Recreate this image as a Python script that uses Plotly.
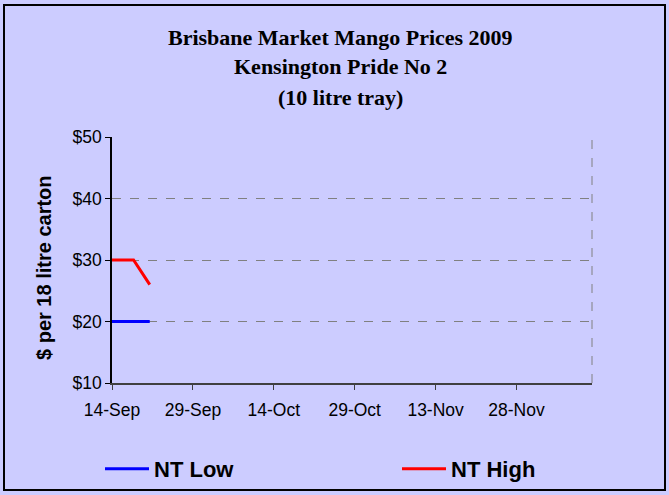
import plotly.graph_objects as go

dates = ["2009-09-14", "2009-09-18", "2009-09-21"]
nt_low = [20, 20, 20]
nt_high = [30, 30, 26]

tick_vals = ["2009-09-14", "2009-09-29", "2009-10-14", "2009-10-29", "2009-11-13", "2009-11-28"]
tick_text = ["14-Sep", "29-Sep", "14-Oct", "29-Oct", "13-Nov", "28-Nov"]
title_lines = ["Brisbane Market Mango Prices 2009", "Kensington Pride No 2", "(10 litre tray)"]
y_title = "$ per 18 litre carton"

BG = "#CCCCFF"
# plot area in pixels: x 112..592, y 137..383
PL, PW, PB, PH = 112, 480, 383, 246


def px_x(p):
    return (p - PL) / PW


def px_y(p):
    return (PB - p) / PH


fig = go.Figure()
fig.add_trace(go.Scatter(x=dates, y=nt_low, name="<b>NT Low</b>", mode="lines",
                         line=dict(color="#0000FF", width=3), legend="legend"))
fig.add_trace(go.Scatter(x=dates, y=nt_high, name="<b>NT High</b>", mode="lines",
                         line=dict(color="#FF0000", width=3), legend="legend2"))

leg_common = dict(
    orientation="h", yanchor="middle", xanchor="left", y=px_y(469),
    itemwidth=44, font=dict(size=22, family="Liberation Sans, Arial"),
    bgcolor="rgba(0,0,0,0)",
)

fig.update_layout(
    width=669, height=495,
    paper_bgcolor=BG, plot_bgcolor=BG,
    margin=dict(l=PL, r=669 - PL - PW, t=PB - PH, b=495 - PB, autoexpand=False),
    font=dict(family="Liberation Sans, Arial", size=17.5, color="#000000"),
    xaxis=dict(
        type="date", range=["2009-09-14", "2009-12-12"],
        tickvals=tick_vals, ticktext=tick_text,
        showgrid=False, zeroline=False,
        showline=True, linecolor="#404040", linewidth=1.5,
        ticks="outside", ticklen=5, tickcolor="#404040",
        ticklabelstandoff=5,
    ),
    yaxis=dict(
        range=[10, 50], dtick=10, tickprefix="$",
        showgrid=True, gridcolor="#808080", griddash="dash", gridwidth=1,
        zeroline=False,
        showline=True, linecolor="#000000", linewidth=1.5,
        ticks="outside", ticklen=5, tickcolor="#000000",
    ),
    legend=dict(leg_common, x=px_x(100)),
    legend2=dict(leg_common, x=px_x(397)),
    showlegend=True,
)

# three title lines
for i, line in enumerate(title_lines):
    fig.add_annotation(
        text="<b>" + line + "</b>", xref="paper", yref="paper",
        x=px_x(340), y=px_y(37 + 30 * i), xanchor="center", yanchor="middle",
        showarrow=False,
        font=dict(family="Liberation Serif, Times New Roman", size=22, color="#000000"),
    )

# y axis title
fig.add_annotation(
    text="<b>" + y_title + "</b>", xref="paper", yref="paper",
    x=px_x(44), y=px_y(268), xanchor="center", yanchor="middle",
    textangle=-90, showarrow=False,
    font=dict(family="Liberation Sans, Arial", size=20, color="#000000"),
)

# dashed right border of the plot area
fig.add_shape(type="line", xref="paper", yref="paper", x0=1, x1=1, y0=0, y1=1,
              line=dict(color="#808080", width=1, dash="dash"))
# outer chart border
fig.add_shape(type="rect", xref="paper", yref="paper",
              x0=px_x(4), x1=px_x(665), y0=px_y(490), y1=px_y(5),
              line=dict(color="#000000", width=2), layer="below")

fig.write_html("out.html", config={"displayModeBar": False},
               post_script="document.body.style.margin='0';")
